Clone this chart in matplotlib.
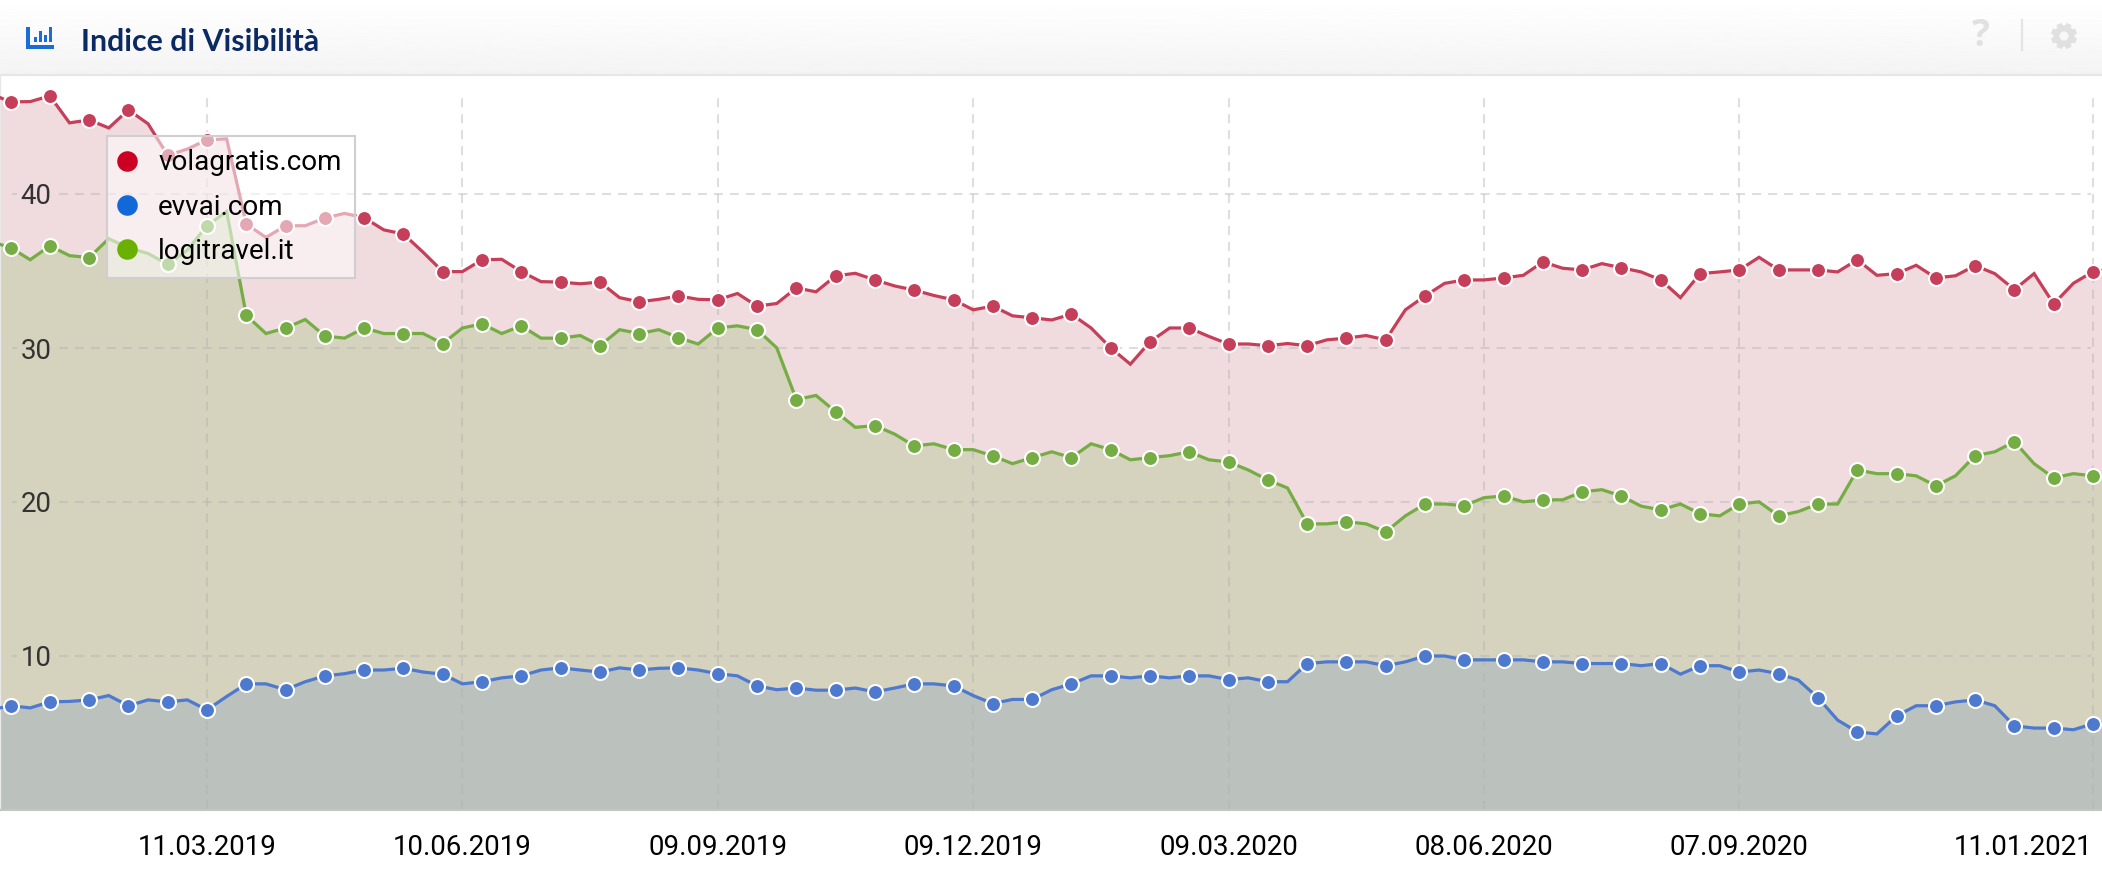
import matplotlib
matplotlib.use("Agg")
import matplotlib.pyplot as plt
import numpy as np
import pandas as pd
from matplotlib.lines import Line2D
from matplotlib.patches import Rectangle, Circle

plt.rcParams['font.family'] = ['Roboto', 'DejaVu Sans']
plt.rcParams['lines.scale_dashes'] = False

W, H = 2102, 874
dates = pd.date_range('2018-12-24', periods=109, freq='7D')

volagratis = [46.5,
 45.98,46.0,46.37,44.62,44.81,44.29,45.46,44.56,42.51,42.92,
 43.52,43.58,38.05,37.18,37.94,37.94,38.44,38.74,38.46,37.67,
 37.40,36.22,34.96,34.96,35.73,35.76,34.96,34.31,34.28,34.17,
 34.28,33.27,33.0,33.16,33.38,33.16,33.13,33.54,32.72,32.89,
 33.9,33.65,34.69,34.85,34.42,34.03,33.76,33.41,33.13,32.48,
 32.72,32.09,31.96,31.82,32.20,31.30,30.01,28.95,30.40,31.30,
 31.30,30.75,30.26,30.26,30.15,30.29,30.15,30.53,30.64,30.81,
 30.53,32.48,33.38,34.20,34.42,34.42,34.55,34.72,35.59,35.18,
 35.07,35.48,35.21,34.94,34.42,33.27,34.83,34.94,35.07,35.89,
 35.07,35.07,35.07,34.94,35.73,34.72,34.83,35.37,34.55,34.69,
 35.35,34.83,33.79,34.83,32.86,34.20,34.96,35.13]

logitravel = [36.91,
 36.52,35.73,36.63,36.0,35.87,37.10,36.50,36.14,35.43,36.36,
 37.94,38.87,32.12,30.94,31.30,31.85,30.78,30.64,31.30,30.94,
 30.94,30.94,30.29,31.30,31.57,30.94,31.44,30.64,30.64,30.81,
 30.15,31.19,30.94,31.19,30.67,30.26,31.30,31.44,31.19,30.01,
 26.65,26.92,25.86,24.85,24.96,24.41,23.64,23.78,23.40,23.40,
 22.99,22.49,22.88,23.26,22.88,23.78,23.40,22.74,22.88,23.01,
 23.26,22.74,22.60,22.08,21.43,20.91,18.58,18.58,18.72,18.58,
 18.06,19.10,19.87,19.87,19.76,20.28,20.39,20.01,20.14,20.14,
 20.66,20.80,20.39,19.73,19.49,19.87,19.24,19.10,19.87,20.01,
 19.10,19.38,19.87,19.87,22.08,21.84,21.84,21.70,21.05,21.70,
 23.01,23.26,23.92,22.49,21.57,21.84,21.70,21.70]

evvai = [6.50,
 6.77,6.63,7.02,7.05,7.15,7.43,6.77,7.15,7.02,7.15,
 6.50,7.37,8.19,8.19,7.81,8.33,8.71,8.85,9.09,9.09,
 9.2,8.96,8.82,8.19,8.33,8.58,8.71,9.09,9.23,9.09,
 8.96,9.23,9.09,9.20,9.23,9.09,8.85,8.71,8.06,7.81,
 7.92,7.78,7.78,7.92,7.67,7.92,8.19,8.19,8.06,7.43,
 6.91,7.18,7.18,7.81,8.19,8.71,8.71,8.58,8.71,8.58,
 8.71,8.71,8.47,8.58,8.33,8.33,9.51,9.62,9.62,9.62,
 9.37,9.62,10.0,10.0,9.75,9.75,9.75,9.75,9.62,9.62,
 9.51,9.51,9.51,9.37,9.51,8.82,9.37,9.37,8.96,9.09,
 8.85,8.44,7.29,5.84,5.07,4.94,6.11,6.77,6.77,7.02,
 7.15,6.77,5.46,5.32,5.32,5.21,5.6,5.73]

tick_dates = ['2019-03-11','2019-06-10','2019-09-09','2019-12-09',
              '2020-03-09','2020-06-08','2020-09-07','2021-01-11']
tick_labels = ['11.03.2019','10.06.2019','09.09.2019','09.12.2019',
               '09.03.2020','08.06.2020','07.09.2020','11.01.2021']
y_ticks = [10, 20, 30, 40]
y_labels = ['10', '20', '30', '40']
legend_names = ['volagratis.com', 'evvai.com', 'logitravel.it']

fig = plt.figure(figsize=(W/100, H/100), dpi=100, facecolor='white')

# header band
hdr = fig.add_axes([0, 1-74/H, 1, 74/H])
hdr.imshow(np.linspace(1.0, 0.955, 64).reshape(-1, 1), aspect='auto', cmap='gray',
           vmin=0, vmax=1, extent=[0, W, 74, 0])
hdr.set_xlim(0, W); hdr.set_ylim(74, 0); hdr.axis('off')
hdr.text(81, 42, 'Indice di Visibilità', fontsize=21.8, fontweight='bold', family='Lato',
         color='#0b2a63', va='center', ha='left')
# icon
icon = '#1a6dd6'
hdr.add_patch(Rectangle((26, 45), 28, 3.6, color=icon, lw=0))
hdr.add_patch(Rectangle((26, 27), 3.6, 20, color=icon, lw=0))
for bx, bt in zip([33.5, 38.5, 43.5, 48.5], [37, 31, 35, 27]):
    hdr.add_patch(Rectangle((bx, bt), 3.2, 42-bt, color=icon, lw=0))
# help mark, separator and gear
hdr.text(1981, 36, '?', fontsize=27, fontweight='bold', color='#e1e1e1', ha='center', va='center',
         family='Open Sans')
hdr.plot([2022, 2022], [20, 50], color='#e4e4e4', lw=1.6)
gear = '#e0e0e0'
for ang in np.deg2rad(np.arange(0, 360, 45) + 22.5):
    hdr.plot([2064, 2064 + 13*np.cos(ang)], [36, 36 + 13*np.sin(ang)], color=gear, lw=4.2,
             solid_capstyle='butt')
hdr.add_patch(Circle((2064, 36), 10.5, color=gear, lw=0, zorder=3))
hdr.add_patch(Circle((2064, 36), 4.6, color='#f7f7f7', lw=0, zorder=4))

# divider
fig.add_artist(Line2D([0, 1], [1-75/H, 1-75/H], color='#e6e6e6', lw=1.6))

# main axes: y=0 at px 810, 15.4 px per unit
ax = fig.add_axes([0, 1-810/H, 1, 735/H])
ax.set_facecolor('none')
ref = pd.Timestamp('2019-03-11')
px_day = (2093-207)/672
ax.set_xlim(ref - pd.Timedelta(days=207/px_day), ref + pd.Timedelta(days=(W-207)/px_day))
ax.set_ylim(0, 735/15.4)

ax.fill_between(dates, volagratis, 0, color='#f0dbdf', lw=0, zorder=1)
ax.fill_between(dates, logitravel, 0, color='#d5d2bd', lw=0, zorder=1.1)
ax.fill_between(dates, evvai, 0, color='#bbc1bd', lw=0, zorder=1.2)

grid_kw = dict(color='#b2b2b2', alpha=0.42, lw=1.45, linestyle=(0, (6.5, 5.0)), zorder=2)
ax.vlines(pd.to_datetime(tick_dates), 0, 46.36, **grid_kw)
ytr = ax.get_yaxis_transform()
ax.hlines(y_ticks, 59/W, 2091/W, transform=ytr, **grid_kw)
ax.hlines(y_ticks, 12/W, 17/W, transform=ytr, **grid_kw)

series = [(volagratis, '#c53f5a'), (evvai, '#4d79cf'), (logitravel, '#75ad44')]
for vals, col in series:
    line, = ax.plot(dates, vals, color=col, lw=2.3, zorder=3, marker='o',
                    markevery=slice(1, None, 2), ms=10.8, mfc=col, mec='white', mew=1.5,
                    solid_joinstyle='miter')
    line.set_clip_box(fig.bbox)

ax.set_xticks(pd.to_datetime(tick_dates))
ax.set_xticklabels(tick_labels, fontsize=19.9, color='#000000')
ax.tick_params(axis='x', length=0, pad=17)
ax.get_xticklabels()[-1].set_ha('right')
ax.set_yticks(y_ticks)
ax.set_yticklabels(y_labels, fontsize=19.9, color='#333333')
ax.tick_params(axis='y', length=0, pad=-37.0)
for lab in ax.get_yticklabels():
    lab.set_zorder(5)
for s in ['top', 'right']:
    ax.spines[s].set_visible(False)
ax.spines['left'].set_color('#e8e8e8'); ax.spines['left'].set_linewidth(1.0)
ax.spines['bottom'].set_color('#c4c6c4'); ax.spines['bottom'].set_linewidth(1.5)

handles = [Line2D([], [], ls='none', marker='o', ms=14.8, mew=0, color=c)
           for c in ['#cc0022', '#1168d8', '#6ab000']]
leg = ax.legend(handles, legend_names, loc='upper left', bbox_to_anchor=(107/W, 1-136/H),
                bbox_transform=fig.transFigure, borderaxespad=0, fontsize=20, labelspacing=0.62,
                borderpad=0.48, handlelength=0.5, handletextpad=0.86, fancybox=False)
frame = leg.get_frame()
frame.set_alpha(None)
frame.set_facecolor((1, 1, 1, 0.55))
frame.set_edgecolor('#cfcfcf')
frame.set_linewidth(1.5)
leg.set_zorder(6)
for t in leg.get_texts():
    t.set_color('#000000')

fig.savefig('out.png', dpi=100)
